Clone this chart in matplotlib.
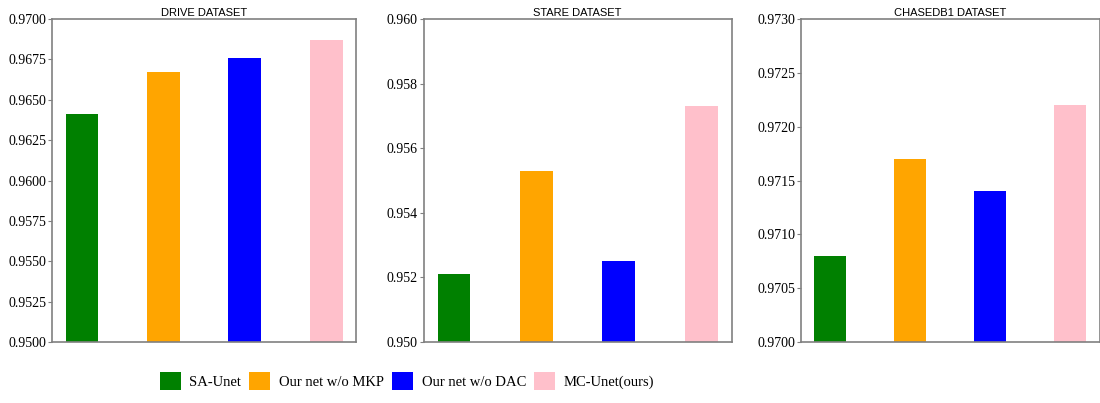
import matplotlib.pyplot as plt
from matplotlib.patches import Patch

# model variants and their scores on each dataset
methods = ["SA-Unet", "Our net w/o MKP", "Our net w/o DAC", "MC-Unet(ours)"]
colors = ["green", "orange", "blue", "pink"]

drive_acc = [0.9641, 0.9667, 0.9676, 0.9687]
stare_acc = [0.9521, 0.9553, 0.9525, 0.9573]
chase_acc = [0.9708, 0.9717, 0.9714, 0.9722]

drive_ticks = [0.9500, 0.9525, 0.9550, 0.9575, 0.9600, 0.9625, 0.9650, 0.9675, 0.9700]
stare_ticks = [0.950, 0.952, 0.954, 0.956, 0.958, 0.960]
chase_ticks = [0.9700, 0.9705, 0.9710, 0.9715, 0.9720, 0.9725, 0.9730]

panels = [
    ("DRIVE DATASET", drive_acc, drive_ticks, "{:.4f}", [0.047, 0.324]),
    ("STARE DATASET", stare_acc, stare_ticks, "{:.3f}", [0.385, 0.665]),
    ("CHASEDB1 DATASET", chase_acc, chase_ticks, "{:.4f}", [0.728, 1.0]),
]

fig = plt.figure(figsize=(11, 4.03), dpi=100)

for title, vals, ticks, fmt, (x0, x1) in panels:
    ax = fig.add_axes([x0, 1 - 342 / 403, x1 - x0, (342 - 19) / 403])
    ax.bar(range(len(vals)), vals, width=0.4, color=colors)
    ax.set_ylim(ticks[0], ticks[-1])
    ax.set_yticks(ticks)
    ax.set_yticklabels([fmt.format(t) for t in ticks],
                       family=["Liberation Serif", "DejaVu Serif"], fontsize=10)
    ax.set_xticks([])
    ax.tick_params(axis="y", length=3, color="#808080", pad=1)
    for sp in ax.spines.values():
        sp.set_color("#808080")
        sp.set_linewidth(1.2)
    ax.set_title(title, fontsize=8, pad=2,
                 family=["Liberation Sans", "DejaVu Sans"])

handles = [Patch(facecolor=c, edgecolor="none") for c in colors]
fig.legend(handles, methods, loc="center", bbox_to_anchor=(407 / 1100, 1 - 381 / 403),
           ncol=4, frameon=False,
           prop={"family": ["Liberation Serif", "DejaVu Serif"], "size": 10.5},
           handlelength=1.44, handleheight=1.5, handletextpad=0.6, columnspacing=0.55)

fig.savefig("out.png", dpi=100)
